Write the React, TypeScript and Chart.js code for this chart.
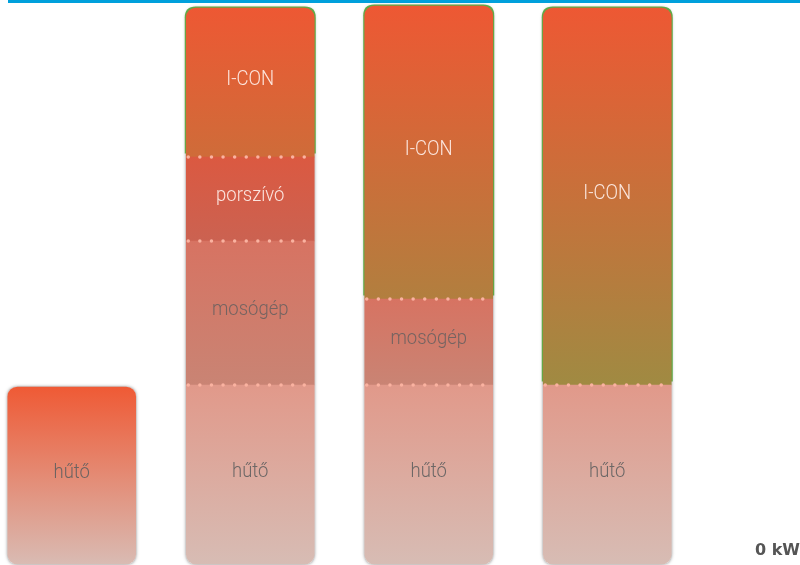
import React, { useEffect, useRef } from 'react';
import { Chart, registerables } from 'chart.js';

Chart.register(...registerables);

// ---- data ----
const CATEGORIES = ['1', '2', '3', '4'];
const SERIES_NAMES = ['hűtő', 'mosógép', 'porszívó', 'I-CON'];
const HUTO: (number | null)[] = [177, 179, 179, 179];
const MOSOGEP: (number | null)[] = [null, 144, 86, null];
const PORSZIVO: (number | null)[] = [null, 84, null, null];
const ICON: (number | null)[] = [null, 149, 293, 377];
const Y_MAX = 564;
const Y_TICKS = [0];
const UNIT = 'kW';

const SERIES = [HUTO, MOSOGEP, PORSZIVO, ICON];

// ---- styles ----
const GRAD_NORMAL: string[][] = [
  ['#e1998a', '#d7bcb4'],
  ['#d77362', '#c98474'],
  ['#db5941', '#cb6251'],
  ['#ef5733', '#7ba249'],
];
const GRAD_TOP_HUTO = ['#ef5a35', '#d9bbb3'];
const LABEL_COLORS = ['rgba(95,95,95,0.9)', 'rgba(100,95,95,0.85)', 'rgba(255,240,235,0.92)', 'rgba(255,240,235,0.92)'];
const RADIUS = 10;

function topIndex(i: number) {
  let t = -1;
  SERIES.forEach((s, k) => { if (s[i] != null) t = k; });
  return t;
}
function bottomIndex(i: number) {
  for (let k = 0; k < SERIES.length; k++) if (SERIES[k][i] != null) return k;
  return -1;
}
function startOf(di: number, i: number) {
  let s = 0;
  for (let k = 0; k < di; k++) s += (SERIES[k][i] as number) ?? 0;
  return s;
}

function background(c: any) {
  const chart = c.chart;
  const di = c.datasetIndex;
  const i = c.dataIndex;
  const y = chart.scales && chart.scales.y;
  const area = chart.chartArea;
  if (di == null || i == null || !y || !area) return GRAD_NORMAL[di ?? 0][0];
  const v = SERIES[di][i];
  if (v == null) return 'rgba(0,0,0,0)';
  const ctx = chart.ctx as CanvasRenderingContext2D;
  if (di === 3) {
    const g = ctx.createLinearGradient(0, area.top, 0, area.bottom);
    g.addColorStop(0, GRAD_NORMAL[3][0]);
    g.addColorStop(1, GRAD_NORMAL[3][1]);
    return g;
  }
  const s = startOf(di, i);
  const top = y.getPixelForValue(s + v);
  const base = y.getPixelForValue(s);
  const cols = di === 0 && topIndex(i) === 0 ? GRAD_TOP_HUTO : GRAD_NORMAL[di];
  const g = ctx.createLinearGradient(0, top, 0, base);
  g.addColorStop(0, cols[0]);
  g.addColorStop(1, cols[1]);
  return g;
}

function radius(c: any) {
  const di = c.datasetIndex;
  const i = c.dataIndex;
  if (di == null || i == null) return 0;
  const isTop = topIndex(i) === di;
  const isBottom = bottomIndex(i) === di;
  return {
    topLeft: isTop ? RADIUS : 0,
    topRight: isTop ? RADIUS : 0,
    bottomLeft: isBottom ? RADIUS : 0,
    bottomRight: isBottom ? RADIUS : 0,
  };
}

function roundRect(ctx: CanvasRenderingContext2D, x: number, y: number, w: number, h: number, rt: number, rb: number) {
  ctx.beginPath();
  ctx.moveTo(x + rt, y);
  ctx.lineTo(x + w - rt, y);
  ctx.quadraticCurveTo(x + w, y, x + w, y + rt);
  ctx.lineTo(x + w, y + h - rb);
  ctx.quadraticCurveTo(x + w, y + h, x + w - rb, y + h);
  ctx.lineTo(x + rb, y + h);
  ctx.quadraticCurveTo(x, y + h, x, y + h - rb);
  ctx.lineTo(x, y + rt);
  ctx.quadraticCurveTo(x, y, x + rt, y);
  ctx.closePath();
}

const decorPlugin = {
  id: 'decor',
  beforeDatasetsDraw(chart: any) {
    const ctx = chart.ctx as CanvasRenderingContext2D;
    const y = chart.scales.y;
    CATEGORIES.forEach((_, i) => {
      const t = topIndex(i);
      const b = bottomIndex(i);
      if (t < 0) return;
      const el = chart.getDatasetMeta(b).data[i];
      const left = el.x - el.width / 2;
      const w = el.width;
      const topPx = y.getPixelForValue(startOf(t, i) + (SERIES[t][i] as number));
      const basePx = y.getPixelForValue(0);
      ctx.save();
      ctx.shadowColor = 'rgba(0,0,0,0.55)';
      ctx.shadowBlur = 3.5;
      ctx.fillStyle = '#ffffff';
      roundRect(ctx, left, topPx, w, basePx - topPx, RADIUS, RADIUS);
      ctx.fill();
      ctx.restore();
      if (ICON[i] != null) {
        const s = startOf(3, i);
        const it = y.getPixelForValue(s + (ICON[i] as number));
        const ib = y.getPixelForValue(s);
        ctx.save();
        ctx.filter = 'blur(0.6px)';
        ctx.fillStyle = 'rgba(88,168,62,0.95)';
        roundRect(ctx, left - 1.5, it - 1.5, w + 3, ib - it - 2, RADIUS + 1, 0);
        ctx.fill();
        ctx.restore();
      }
    });
  },
  afterDatasetsDraw(chart: any) {
    const ctx = chart.ctx as CanvasRenderingContext2D;
    const y = chart.scales.y;
    CATEGORIES.forEach((_, i) => {
      const b = bottomIndex(i);
      SERIES.forEach((s, di) => {
        const v = s[i];
        if (v == null) return;
        const el = chart.getDatasetMeta(di).data[i];
        const left = el.x - el.width / 2;
        const start = startOf(di, i);
        const top = y.getPixelForValue(start + v);
        const base = y.getPixelForValue(start);
        // dotted separator at the lower edge of a stacked segment
        if (di !== b) {
          ctx.save();
          ctx.strokeStyle = 'rgba(250,178,160,1)';
          ctx.lineWidth = 3.5;
          ctx.lineCap = 'round';
          ctx.setLineDash([0, 11.6]);
          ctx.beginPath();
          ctx.moveTo(left + 2, base);
          ctx.lineTo(left + el.width, base);
          ctx.stroke();
          ctx.restore();
        }
        // segment label
        ctx.save();
        ctx.translate(el.x, (top + base) / 2 - 3);
        ctx.scale(0.88, 1);
        ctx.font = '300 21px Roboto';
        ctx.fillStyle = LABEL_COLORS[di];
        ctx.textAlign = 'center';
        ctx.textBaseline = 'middle';
        ctx.fillText(SERIES_NAMES[di], 0, 0);
        ctx.restore();
      });
    });
  },
};

export default function App() {
  const ref = useRef<HTMLCanvasElement | null>(null);
  useEffect(() => {
    if (!ref.current) return;
    const chart = new Chart(ref.current, {
      type: 'bar',
      data: {
        labels: CATEGORIES,
        datasets: SERIES.map((s, k) => ({
          label: SERIES_NAMES[k],
          data: s,
          backgroundColor: background,
          borderRadius: radius,
          borderSkipped: false,
          borderWidth: 0,
          barThickness: 128,
          clip: false,
        })) as any,
      },
      options: {
        responsive: false,
        animation: false,
        layout: { padding: { left: 71.75, right: 0, top: 0, bottom: 1 } },
        plugins: { legend: { display: false }, tooltip: { enabled: false } },
        scales: {
          x: { stacked: true, display: false, offset: false },
          y: {
            stacked: true,
            position: 'right',
            min: 0,
            max: Y_MAX,
            grid: { display: false },
            border: { display: false },
            afterBuildTicks: (scale: any) => {
              scale.ticks = Y_TICKS.map((v) => ({ value: v }));
            },
            afterFit: (scale: any) => {
              scale.width = 192.75;
              scale.paddingTop = 0;
              scale.paddingBottom = 0;
            },
            ticks: {
              crossAlign: 'far',
              labelOffset: -13,
              padding: 0,
              color: '#555555',
              font: { family: 'DejaVu Sans', weight: 'bold', size: 16 },
              callback: (v: any) => `${v} ${UNIT}`,
            },
          },
        },
      } as any,
      plugins: [decorPlugin],
    });
    return () => chart.destroy();
  }, []);
  return (
    <div style={{ position: 'absolute', left: 0, top: 0, width: 800, height: 565, overflow: 'hidden', background: '#fff' }}>
      <div style={{ position: 'absolute', left: 8, top: 0, width: 792, height: 3, background: '#00a0dc' }} />
      <canvas ref={ref} width={800} height={565} style={{ position: 'absolute', left: 0, top: 0, width: 800, height: 565 }} />
    </div>
  );
}
